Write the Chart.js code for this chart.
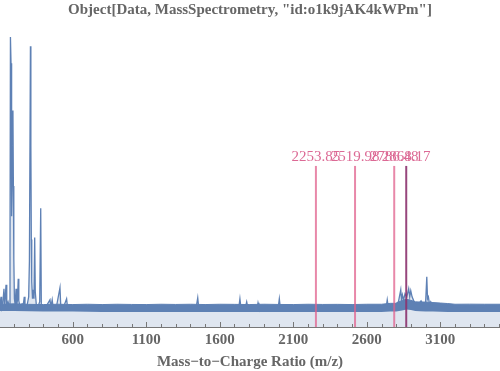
<!DOCTYPE html>
<html><head><meta charset="utf-8">
<script src="https://cdn.jsdelivr.net/npm/chart.js@4"></script>
<style>html,body{margin:0;padding:0;background:#fff}#wrap{width:500px;height:371px;position:relative}</style>
</head><body><div id="wrap"><canvas id="c"></canvas></div>
<script>
const titleText = 'Object[Data, MassSpectrometry, "id:o1k9jAK4kWPm"]';
const xTitle = 'Mass\u2212to\u2212Charge Ratio (m/z)';
const xTickLabels = [600, 1100, 1600, 2100, 2600, 3100];

// spectrum (m/z, intensity)
const specMz = [105,112,116,124,132,137,146,151,160,167,173,176,180,184,188,193,196,199,203,208,214,218,224,229,233,240,255,262,270,275,290,300,305,312,315,318,321,326,331,336,341,345,352,365,375,382,386,400,425,445,451,460,466,490,513,518,540,558,564,600,
  800,1000,1200,1440,1450,1456,1600,1730,1737,1743,1775,1783,1790,1855,1860,1866,1998,2005,2011,2200,2400,2600,2700,2733,2739,2745,2790,2815,2831,2836,2842,2850,2860,2872,2885,2892,2899,2908,2925,2950,2969,2985,3000,3008,3013,3019,3027,3035,3050,3100,3300,3506];
const specInt = [22,30,19,23,38,20,42,21,25,21,70,288,262,110,150,215,140,68,28,22,38,21,27,48,26,21,23,20,30,20,22,30,65,279,180,87,45,28,37,28,89,35,22,21,25,118,22,20,22,27,20,27,20,21,39,22,21,28,20,21,
  20,20,20,20,29,20,20,20,28,20,20,25,20,20,24,20,20,28,20,20,20,20,21,21,27,21,22,25,37,27,32,27,33,30,38,30,36,30,24,23,26,22,24,50,28,30,22,25,21,21,20,21];

// noise band envelopes
const bandMz   = [105,200,300,400,500,600,700,800,900,1000,1100,1200,1300,1400,1500,1600,1700,1800,1900,2000,2100,2200,2300,2400,2500,2600,2700,2760,2800,2840,2870,2900,2930,2960,3000,3050,3100,3150,3200,3300,3400,3506];
const bandHigh = [22.5,23,22.5,22.3,22.6,22.3,22.6,22.3,22.6,22.4,22.3,22.6,22.4,22.6,22.3,22.6,22.5,22.3,22.6,22.4,22.3,22.6,22.4,22.5,22.3,22.6,22.6,23.5,23.5,26.5,27.5,26.5,25,24.8,24.8,24.3,23.8,23.3,22.6,22.7,22.6,22.6];
const bandLow  = [16,16,15.7,15.5,15.5,15.3,15.2,15,15,15,15,15,15,15,15,15,15,15,15,15,15,15,15,15,15,15,15,15.3,15.5,16.5,17.5,17,16,15.7,15.5,15.3,15.2,15,15,15,15,15];

const markerMz = [2253.85, 2519.98, 2786.48, 2868.17];
const markerLabels = ['2253.85', '2519.98', '2786.48', '2868.17'];
const markerTop = 160;

const blue = '#5e81b5';
const markerColors = ['rgba(224,96,140,0.75)', 'rgba(224,96,140,0.75)', 'rgba(224,96,140,0.75)', 'rgba(140,50,110,0.9)'];

const pts = (xs, ys) => xs.map((x, i) => ({x: x, y: ys[i]}));

const datasets = [];
markerMz.forEach((m, i) => {
  datasets.push({type: 'line', data: [{x: m, y: 0}, {x: m, y: markerTop}], borderColor: markerColors[i], borderWidth: 2, pointRadius: 0, fill: false});
});
datasets.push({data: pts(specMz, specInt), borderColor: blue, borderWidth: 1.3, pointRadius: 0, fill: 'origin', backgroundColor: 'rgba(94,129,181,0.2)'});
datasets.push({data: pts(bandMz, bandHigh), borderColor: blue, borderWidth: 1, pointRadius: 0, fill: '+1', backgroundColor: blue});
datasets.push({data: pts(bandMz, bandLow), borderColor: 'rgba(0,0,0,0)', borderWidth: 0, pointRadius: 0, fill: false});

const innerTicks = {
  id: 'innerTicks',
  afterDraw(chart) {
    const xs = chart.scales.x, ctx = chart.ctx, b = chart.chartArea.bottom;
    ctx.save();
    ctx.strokeStyle = '#777';
    ctx.lineWidth = 1;
    for (let v = 200; v <= xs.max; v += 100) {
      const px = Math.round(xs.getPixelForValue(v)) + 0.5;
      const major = xTickLabels.includes(v);
      ctx.beginPath();
      ctx.moveTo(px, b);
      ctx.lineTo(px, b - (major ? 5 : 3));
      ctx.stroke();
    }
    ctx.restore();
  }
};
const markerText = {
  id: 'markerText',
  afterDatasetsDraw(chart) {
    const xs = chart.scales.x, ys = chart.scales.y, ctx = chart.ctx;
    ctx.save();
    ctx.font = '15px "Liberation Serif"';
    ctx.fillStyle = '#dc6a95';
    ctx.textAlign = 'center';
    ctx.textBaseline = 'alphabetic';
    markerMz.forEach((m, i) => {
      ctx.fillText(markerLabels[i], xs.getPixelForValue(m), ys.getPixelForValue(markerTop) - 5);
    });
    ctx.restore();
  }
};

const serifBold = {family: 'Liberation Serif', size: 15, weight: 'bold'};

new Chart(document.getElementById('c'), {
  type: 'line',
  data: {datasets: datasets},
  plugins: [innerTicks, markerText],
  options: {
    responsive: true, maintainAspectRatio: false, animation: false,
    layout: {padding: 0},
    plugins: {
      legend: {display: false}, tooltip: {enabled: false},
      title: {display: true, text: titleText, color: '#666', font: serifBold, padding: {top: 1.5, bottom: 5.5}},
    },
    scales: {
      x: {
        type: 'linear', min: 105, max: 3506,
        grid: {display: false, drawTicks: false},
        border: {display: true, color: '#777', width: 1},
        afterBuildTicks: (s) => { s.ticks = xTickLabels.map(v => ({value: v})); },
        ticks: {color: '#666', padding: 4, autoSkip: false, maxRotation: 0, font: serifBold, callback: (v) => String(v)},
        title: {display: true, text: xTitle, color: '#666', font: serifBold, padding: {top: 0, bottom: 0}}
      },
      y: {display: false, min: 0, max: 300}
    }
  }
});
</script>
</body></html>
